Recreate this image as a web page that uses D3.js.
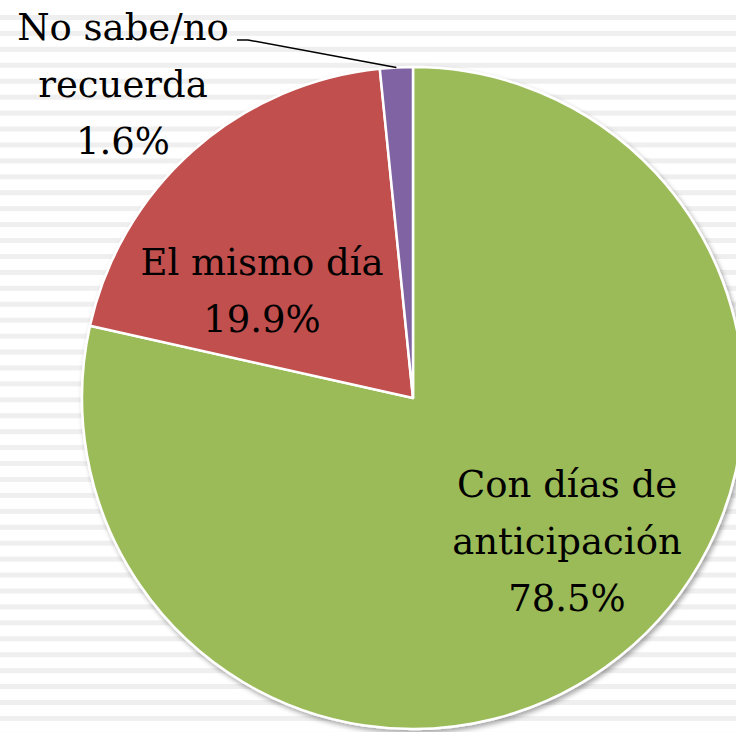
<!DOCTYPE html>
<html>
<head>
<meta charset="utf-8">
<script src="https://cdn.jsdelivr.net/npm/d3@7"></script>
<style>
  body { margin: 0; background: #fff; }
  svg { display: block; }
  .lbl { font-family: "Palatino Linotype", "Book Antiqua", Palatino, "DejaVu Serif", serif; font-size: 37px; fill: #000; }
</style>
</head>
<body>
<div id="chart"></div>
<script>
// data
var categories = ["Con días de anticipación", "El mismo día", "No sabe/no recuerda"];
var values = [78.5, 19.9, 1.6];
var colors = ["#9bbb59", "#c0504d", "#8064a2"];
// label lines for each slice
var labelLines = [
  ["Con días de", "anticipación", "78.5%"],
  ["El mismo día", "19.9%"],
  ["No sabe/no", "recuerda", "1.6%"]
];

var svgWidth = 736;
var svgHeight = 732;
var cx = 413, cy = 398, radius = 331;

var svg = d3.select("#chart").append("svg")
  .attr("width", svgWidth)
  .attr("height", svgHeight);

// striped background
var stripes = d3.range(0, 47).map(function(i) { return 15 + i * 15.93; });
svg.append("g").selectAll("rect")
  .data(stripes)
  .enter().append("rect")
  .attr("x", 0)
  .attr("y", function(d) { return d; })
  .attr("width", svgWidth)
  .attr("height", 5)
  .attr("fill", "#efefef");

var defs = svg.append("defs");
defs.append("filter").attr("id", "shadow")
  .attr("x", "-10%").attr("y", "-10%").attr("width", "120%").attr("height", "120%")
  .append("feDropShadow")
  .attr("dx", 2).attr("dy", 3).attr("stdDeviation", 2.5)
  .attr("flood-color", "#000").attr("flood-opacity", 0.35);

var pie = d3.pie().sort(null).value(function(d) { return d; });
var arcs = pie(values);
var arc = d3.arc().innerRadius(0).outerRadius(radius);

var chartGroup = svg.append("g")
  .attr("transform", "translate(" + cx + "," + cy + ")");

chartGroup.append("g").attr("filter", "url(#shadow)")
  .selectAll("path")
  .data(arcs)
  .enter().append("path")
  .attr("d", arc)
  .attr("fill", function(d, i) { return colors[i]; })
  .attr("stroke", "#fff")
  .attr("stroke-width", 2.5)
  .attr("stroke-linejoin", "round");

// label anchors (relative to center)
var labelPos = [
  { x: 154, y: 99 },   // first baseline
  { x: -151, y: -123 },
  { x: -290, y: -358 }
];
var lineGap = 57;

arcs.forEach(function(a, i) {
  var t = chartGroup.append("text")
    .attr("class", "lbl")
    .attr("text-anchor", "middle");
  labelLines[i].forEach(function(line, j) {
    t.append("tspan")
      .attr("x", labelPos[i].x)
      .attr("y", labelPos[i].y + j * lineGap)
      .text(line);
  });
});

// leader line for the small slice
var small = arcs[2];
var mid = (small.startAngle + small.endAngle) / 2;
var edge = [Math.sin(mid) * radius, -Math.cos(mid) * radius];
chartGroup.append("polyline")
  .attr("points", [[-176, -358], [-165, -358], edge].map(function(p) { return p.join(","); }).join(" "))
  .attr("fill", "none")
  .attr("stroke", "#000")
  .attr("stroke-width", 1.5);
</script>
</body>
</html>
